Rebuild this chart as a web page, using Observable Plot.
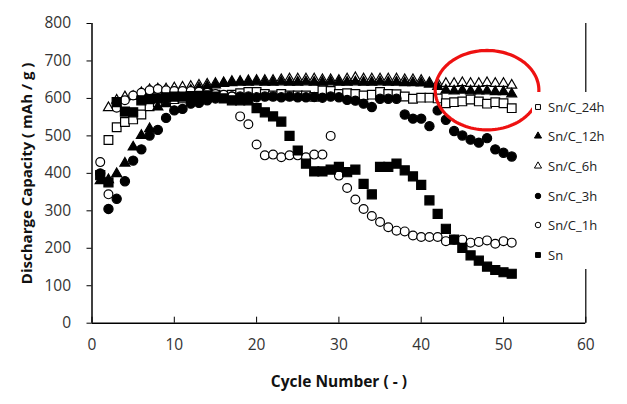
<!DOCTYPE html>
<html><head><meta charset="utf-8">
<script src="https://cdn.jsdelivr.net/npm/d3@7"></script>
<script src="https://cdn.jsdelivr.net/npm/@observablehq/plot@0.6"></script>
<style>
body{margin:0;background:#fff;}
#wrap{position:relative;width:627px;height:404px;overflow:hidden;}
#legend{position:absolute;left:532px;top:92px;width:88px;height:177px;background:#fff;font-family:"Open Sans",sans-serif;font-size:13px;color:#222;}
.item{position:absolute;left:0;height:18px;display:flex;align-items:center;white-space:nowrap;}
.item svg{margin-right:4px;}
</style>
</head><body>
<div id="wrap"><div id="legend"></div></div>
<script>
const cycles = [1,2,3,4,5,6,7,8,9,10,11,12,13,14,15,16,17,18,19,20,21,22,23,24,25,26,27,28,29,30,31,32,33,34,35,36,37,38,39,40,41,42,43,44,45,46,47,48,49,50,51];
const snc24h = [null,489,523,537,544,557,579,590,595,598,600,605,608,610,610,608,610,614,617,617,612,608,612,608,608,608,604,621,620,612,614,612,608,610,617,612,611,605,599,602,602,600,587,590,592,597,592,586,590,587,574];
const snc12h = [380,383,399,427,470,501,519,577,586,605,612,622,628,632,636,640,642,643,643,644,643,643,644,643,643,644,643,643,644,643,643,644,643,643,644,643,643,642,642,641,638,632,622,620,622,620,620,620,618,618,612];
const snc6h  = [null,575,595,604,605,615,623,625,625,628,630,632,635,638,640,642,645,645,647,648,648,648,650,652,652,652,652,650,650,648,652,655,652,652,652,652,652,650,650,648,642,640,640,640,642,640,640,642,640,640,635];
const snc3h  = [400,305,332,379,434,464,501,516,548,568,572,586,588,595,600,603,605,605,605,603,605,605,603,605,603,603,604,602,605,603,596,594,586,577,599,599,599,557,546,546,526,568,543,513,501,490,482,494,464,455,445];
const snc1h  = [430,344,575,595,608,615,622,625,622,620,620,620,618,615,612,610,605,552,531,477,448,450,443,448,448,443,450,450,500,394,361,330,305,286,270,256,247,245,234,230,230,230,219,223,223,215,217,221,212,219,215];
const sn     = [395,376,590,565,563,595,598,600,603,605,605,606,607,608,605,600,595,595,595,574,563,552,538,500,461,426,405,405,410,417,403,410,372,344,417,417,426,408,392,369,328,292,252,223,201,181,167,151,142,136,132];

const seriesNames = ["Sn/C_24h","Sn/C_12h","Sn/C_6h","Sn/C_3h","Sn/C_1h","Sn"];
const xTicks = [0,10,20,30,40,50,60];
const yTicks = [0,100,200,300,400,500,600,700,800];
const xTitle = "Cycle Number ( - )";
const yTitle = "Discharge Capacity ( mAh / g )";
// annotation ellipse (data units): center cycle, center capacity, radius in cycles, radius in capacity
const ringCenter = [48, 622];
const ringRadius = [6.3, 106];

const styles = {
  "Sn/C_24h": {values: snc24h, symbol: "square",   fill: "#fff", r: 4.9},
  "Sn/C_12h": {values: snc12h, symbol: "triangle", fill: "#000", r: 3.7},
  "Sn/C_6h":  {values: snc6h,  symbol: "triangle", fill: "#fff", r: 3.7},
  "Sn/C_3h":  {values: snc3h,  symbol: "circle",   fill: "#000", r: 4.6},
  "Sn/C_1h":  {values: snc1h,  symbol: "circle",   fill: "#fff", r: 4.4},
  "Sn":       {values: sn,     symbol: "square",   fill: "#000", r: 5.1}
};
const drawOrder = ["Sn/C_24h","Sn/C_6h","Sn/C_12h","Sn/C_3h","Sn/C_1h","Sn"];

function rows(name) {
  return cycles.map((c, i) => ({cycle: c, cap: styles[name].values[i], series: name}))
               .filter(d => d.cap != null);
}

const ring = d3.range(0, 2 * Math.PI, Math.PI / 60).map(t => ({
  x: ringCenter[0] + ringRadius[0] * Math.cos(t),
  y: ringCenter[1] + ringRadius[1] * Math.sin(t)
}));

const dotMarks = drawOrder.map(name => Plot.dot(rows(name), {
  x: "cycle", y: "cap", symbol: () => styles[name].symbol, r: styles[name].r,
  fill: styles[name].fill, stroke: "#000", strokeWidth: 1.2
}));

const chart = Plot.plot({
  width: 627, height: 404,
  marginLeft: 91.5, marginRight: 41.7, marginTop: 23, marginBottom: 81.3,
  x: {domain: [0, 60]},
  y: {domain: [0, 800]},
  symbol: {type: "identity"},
  style: {fontFamily: "Open Sans, sans-serif", fontSize: "15.5px", color: "#333", background: "#fff"},
  marks: [
    Plot.axisX({ticks: xTicks, tickSize: -6, tickPadding: 21.5, label: null, stroke: "#000", fill: "#333"}),
    Plot.axisY({ticks: yTicks, tickSize: 5, tickPadding: 16, label: null, stroke: "#000", fill: "#333"}),
    Plot.ruleX([60], {stroke: "#000", strokeWidth: 1.2}),
    Plot.ruleX([0], {stroke: "#000", strokeWidth: 1.5}),
    Plot.ruleY([0], {stroke: "#000", strokeWidth: 1.5}),
    ...dotMarks,
    Plot.line(ring, {x: "x", y: "y", curve: "linear-closed", stroke: "#ee1111", strokeWidth: 3.2}),
    Plot.text([xTitle], {frameAnchor: "bottom", dy: 58.5, fontWeight: "bold", fontSize: 15.5, fill: "#111", lineAnchor: "middle", textAnchor: "middle"}),
    Plot.text([yTitle], {frameAnchor: "left", dx: -64.5, rotate: -90, fontWeight: "bold", fontSize: 15, fill: "#111", lineAnchor: "middle", textAnchor: "middle"})
  ]
});
document.getElementById("wrap").prepend(chart);

// legend
const legend = document.getElementById("legend");
const legendSymbols = {square: d3.symbolSquare, triangle: d3.symbolTriangle, circle: d3.symbolCircle};
seriesNames.forEach((name, i) => {
  const s = styles[name];
  const item = document.createElement("div");
  item.className = "item";
  item.style.top = (5.7 + i * 29.6) + "px";
  const svg = d3.create("svg").attr("width", 12).attr("height", 12);
  const area = s.symbol === "triangle" ? 22 : 24;
  svg.append("path")
     .attr("transform", "translate(6,6)")
     .attr("d", d3.symbol(legendSymbols[s.symbol], area)())
     .attr("fill", s.fill).attr("stroke", "#000").attr("stroke-width", 1);
  item.appendChild(svg.node());
  const span = document.createElement("span");
  span.textContent = name;
  item.appendChild(span);
  legend.appendChild(item);
});
</script>
</body></html>
